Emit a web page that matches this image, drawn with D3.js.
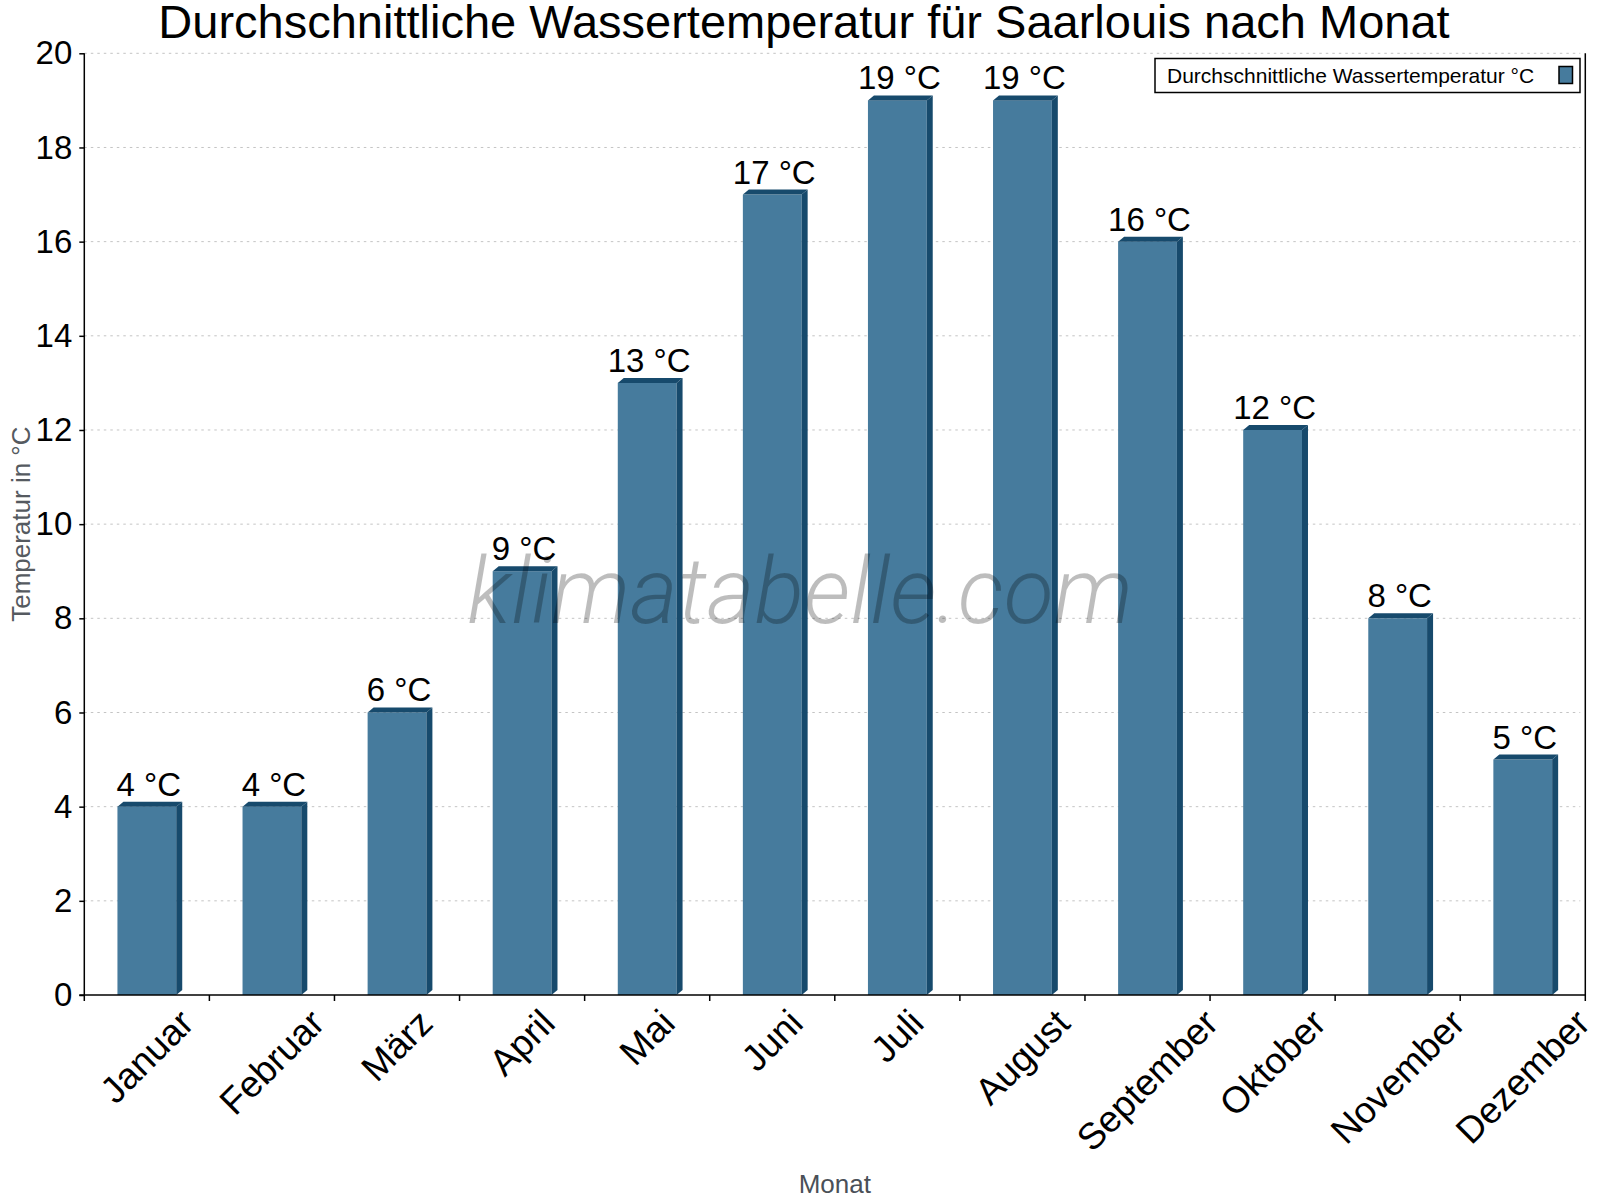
<!DOCTYPE html>
<html>
<head>
<meta charset="utf-8">
<script src="https://cdn.jsdelivr.net/npm/d3@7"></script>
<style>
html,body{margin:0;padding:0;background:#fff;}
svg{display:block;}
</style>
</head>
<body>
<svg id="chart" width="1600" height="1200"></svg>
<script>
const months = ["Januar","Februar","März","April","Mai","Juni","Juli","August","September","Oktober","November","Dezember"];
const waterTemp = [4,4,6,9,13,17,19,19,16,12,8,5];
const yTicks = [0,2,4,6,8,10,12,14,16,18,20];
const titleText = "Durchschnittliche Wassertemperatur für Saarlouis nach Monat";
const seriesName = "Durchschnittliche Wassertemperatur °C";
const unit = " °C";
const yTitle = "Temperatur in °C";
const xTitle = "Monat";
const watermark = "klimatabelle.com";

const FONT = "'Liberation Sans', Arial, sans-serif";
const frontColor = "#467b9d";
const darkColor = "#174a6c";

const svg = d3.select("#chart");
const m = {left: 84.3, right: 1585.3, top: 53.3, bottom: 995};

const x = d3.scaleBand().domain(months).range([m.left, m.right]).paddingInner(0).paddingOuter(0);
const y = d3.scaleLinear().domain([0, 20]).range([m.bottom, m.top]);

// gridlines
svg.append("g").selectAll("line").data(yTicks.filter(d => d > 0)).join("line")
  .attr("x1", m.left).attr("x2", m.right - 5)
  .attr("y1", d => y(d)).attr("y2", d => y(d))
  .attr("stroke", "#c4c4c4").attr("stroke-width", 1)
  .attr("stroke-dasharray", "2.5,4");

// bars
const bw = x.bandwidth() * 0.47;
const dx = 6, dy = 5;
const bars = svg.append("g").selectAll("g").data(months.map((mo, i) => ({mo, v: waterTemp[i]}))).join("g");
bars.each(function(d) {
  const g = d3.select(this);
  const cx = x(d.mo) + x.bandwidth() / 2;
  const x0 = cx - bw / 2, x1 = cx + bw / 2;
  const yt = y(d.v), yb = y(0);
  g.append("rect").attr("x", x0).attr("y", yt).attr("width", bw).attr("height", yb - yt).attr("fill", frontColor);
  g.append("polygon").attr("points", [[x0, yt], [x0 + dx, yt - dy], [x1 + dx, yt - dy], [x1, yt]].map(p => p.join(",")).join(" ")).attr("fill", darkColor);
  g.append("polygon").attr("points", [[x1, yt], [x1 + dx, yt - dy], [x1 + dx, yb - dy], [x1, yb]].map(p => p.join(",")).join(" ")).attr("fill", darkColor);
  g.append("text").attr("x", cx + 2).attr("y", yt - dy - 6)
    .attr("text-anchor", "middle").attr("font-family", FONT).attr("font-size", 33).attr("fill", "#000")
    .text(d.v + unit);
});

// axes
const yAxis = svg.append("g").attr("transform", `translate(${m.left},0)`)
  .call(d3.axisLeft(y).tickValues(yTicks).tickSize(5).tickPadding(7).tickFormat(d3.format("d")));
yAxis.select(".domain").attr("stroke", "#000").attr("stroke-width", 1.5).attr("d", `M0,${m.top}V${m.bottom}`);
yAxis.selectAll(".tick line").attr("stroke", "#000").attr("stroke-width", 1.5);
yAxis.selectAll(".tick text").attr("font-family", FONT).attr("font-size", 33).attr("fill", "#000");

const xAxis = svg.append("g").attr("transform", `translate(0,${m.bottom})`);
xAxis.append("line").attr("x1", m.left - 5).attr("x2", m.right).attr("y1", 0).attr("y2", 0).attr("stroke", "#000").attr("stroke-width", 1.5);
const bounds = [m.left].concat(months.map(mo => x(mo) + x.bandwidth()));
xAxis.selectAll("line.tk").data(bounds).join("line").attr("class", "tk")
  .attr("x1", d => d).attr("x2", d => d).attr("y1", 0).attr("y2", 6)
  .attr("stroke", "#000").attr("stroke-width", 1.5);
// right border
svg.append("line").attr("x1", m.right).attr("x2", m.right).attr("y1", m.top).attr("y2", m.bottom)
  .attr("stroke", "#000").attr("stroke-width", 1.5);

// x labels rotated
const xl = xAxis.selectAll("text.xl").data(months).join("text").attr("class", "xl")
  .attr("font-family", FONT).attr("font-size", 37).attr("fill", "#000")
  .attr("text-anchor", "middle").attr("dominant-baseline", "central")
  .text(d => d);
xl.each(function(d) {
  const w = this.getComputedTextLength();
  const h = 27;
  const half = 0.7071 * (w + h) / 2;
  const cx = x(d) + x.bandwidth() / 2;
  const cy = 12 + half;
  d3.select(this).attr("transform", `translate(${cx},${cy}) rotate(-45)`);
});

// axis titles
svg.append("text").attr("transform", `translate(30,${(m.top + m.bottom) / 2}) rotate(-90)`)
  .attr("text-anchor", "middle").attr("font-family", FONT).attr("font-size", 26).attr("fill", "#555a60")
  .text(yTitle);
svg.append("text").attr("x", (m.left + m.right) / 2).attr("y", 1193)
  .attr("text-anchor", "middle").attr("font-family", FONT).attr("font-size", 26).attr("fill", "#4a5058")
  .text(xTitle);

// title
svg.append("text").attr("x", 804).attr("y", 38)
  .attr("text-anchor", "middle").attr("font-family", FONT).attr("font-size", 47).attr("fill", "#000")
  .text(titleText);

// legend
const lg = svg.append("g");
lg.append("rect").attr("x", 1155).attr("y", 58.5).attr("width", 425).attr("height", 34)
  .attr("fill", "#fff").attr("stroke", "#000").attr("stroke-width", 1.5);
lg.append("text").attr("x", 1167).attr("y", 83).attr("font-family", FONT).attr("font-size", 21).attr("fill", "#000")
  .text(seriesName);
lg.append("rect").attr("x", 1559).attr("y", 66.5).attr("width", 13.5).attr("height", 17)
  .attr("fill", frontColor).attr("stroke", "#000").attr("stroke-width", 1.5);

// watermark
svg.append("text").attr("x", 800).attr("y", 623)
  .attr("text-anchor", "middle").attr("font-family", "Roboto, sans-serif").attr("font-weight", 300)
  .attr("font-style", "italic").attr("font-size", 92).attr("fill", "#000").attr("fill-opacity", 0.26)
  .text(watermark);
</script>
</body>
</html>
